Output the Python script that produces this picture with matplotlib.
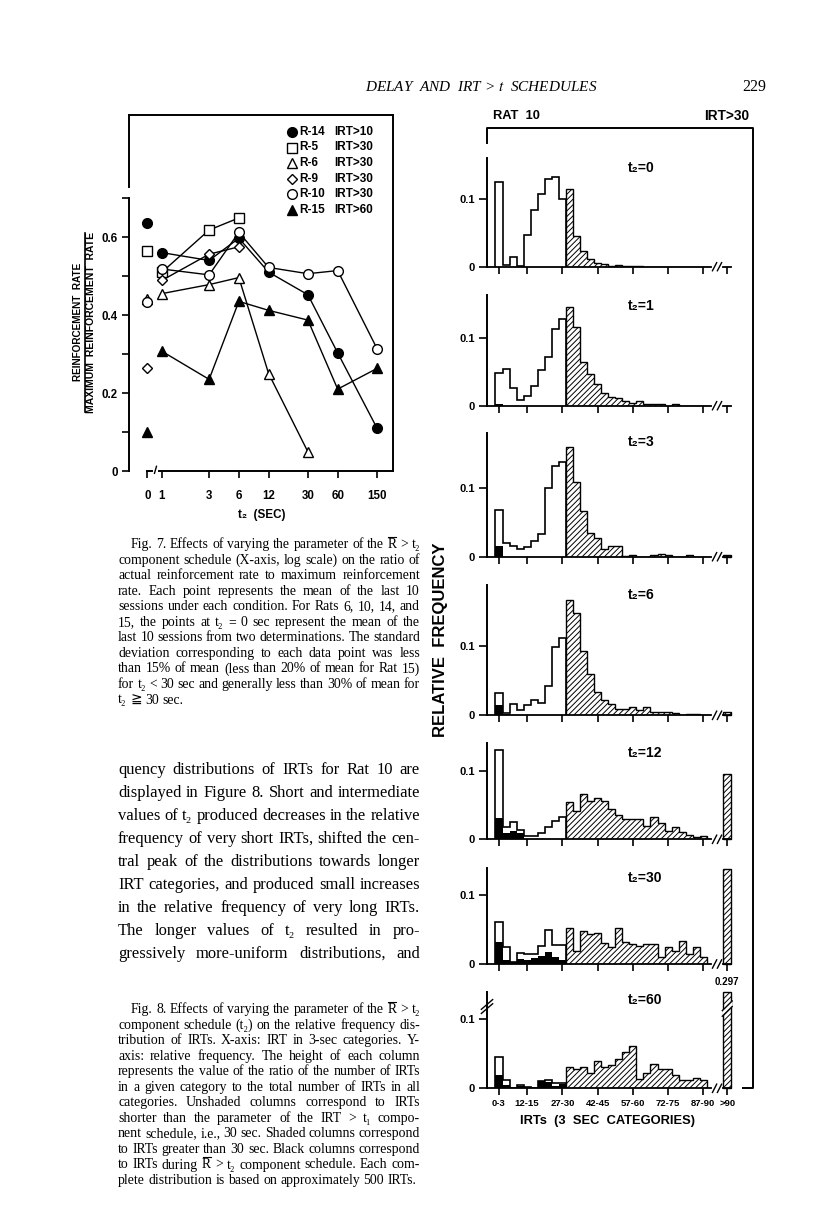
import numpy as np
import matplotlib
matplotlib.use('Agg')
import matplotlib.pyplot as plt
from matplotlib.lines import Line2D
from matplotlib.patches import Polygon

nan = np.nan
# ---------------- Fig. 7 data ----------------
t2_sec = [0, 1, 3, 6, 12, 30, 60, 150]
r14 = [0.635, 0.560, 0.540, 0.597, 0.510, 0.452, 0.303, 0.110]
r5 = [0.563, 0.510, 0.618, 0.649, nan, nan, nan, nan]
r6 = [0.442, 0.455, 0.478, 0.496, 0.250, 0.049, nan, nan]
r9 = [0.264, 0.489, 0.556, 0.575, nan, nan, nan, nan]
r10 = [0.434, 0.518, 0.503, 0.612, 0.522, 0.506, 0.514, 0.314]
r15 = [0.099, 0.307, 0.235, 0.435, 0.412, 0.387, 0.210, 0.263]
rat_names = ['R-14', 'R-5', 'R-6', 'R-9', 'R-10', 'R-15']
rat_irt = ['IRT>10', 'IRT>30', 'IRT>30', 'IRT>30', 'IRT>30', 'IRT>60']
x_ticklabels7 = ['0', '1', '3', '6', '12', '30', '60', '150']

# ---------------- Fig. 8 data (Rat 10, IRT>30) ----------------
panel_t2 = ['0', '1', '3', '6', '12', '30', '60']
hist_t0 = [0.126, 0.002, 0.015, 0.001, 0.047, 0.084, 0.108, 0.130, 0.134, 0.100,
           0.116, 0.045, 0.023, 0.012, 0.006, 0.0035, 0.0015, 0.002, 0.0015, 0.0015,
           0.0005, 0, 0, 0, 0, 0, 0, 0, 0, 0]
hist_t1 = [0.0485, 0.054, 0.0255, 0.008, 0.015, 0.029, 0.052, 0.071, 0.113, 0.127,
           0.145, 0.116, 0.065, 0.047, 0.032, 0.018, 0.013, 0.012, 0.007, 0.004,
           0.007, 0.003, 0.0025, 0.0025, 0, 0.003, 0, 0, 0, 0]
hist_t3 = [0.068, 0.020, 0.016, 0.011, 0.014, 0.023, 0.033, 0.101, 0.133, 0.138,
           0.161, 0.109, 0.067, 0.034, 0.028, 0.012, 0.015, 0.015, 0.001, 0.003,
           0, 0, 0.0025, 0.004, 0.003, 0, 0, 0.003, 0, 0]
hist_t6 = [0.032, 0.004, 0.016, 0.007, 0.015, 0.022, 0.018, 0.043, 0.099, 0.112,
           0.166, 0.148, 0.093, 0.059, 0.033, 0.022, 0.016, 0.0087, 0.0087, 0.0115,
           0.0077, 0.0115, 0.005, 0.005, 0.005, 0.003, 0, 0.002, 0.002, 0]
hist_t12 = [0.130, 0.018, 0.025, 0.0135, 0.005, 0.005, 0.009, 0.018, 0.026, 0.033,
            0.054, 0.041, 0.066, 0.056, 0.060, 0.056, 0.044, 0.035, 0.030, 0.030,
            0.030, 0.019, 0.033, 0.024, 0.0126, 0.018, 0.011, 0.006, 0.004, 0.005]
hist_t30 = [0.061, 0.024, 0.003, 0.016, 0.0145, 0.0145, 0.026, 0.049, 0.0275, 0.0275,
            0.052, 0.019, 0.048, 0.044, 0.045, 0.030, 0.024, 0.052, 0.032, 0.0285,
            0.026, 0.0285, 0.0285, 0.0106, 0.024, 0.019, 0.033, 0.0145, 0.024, 0.0106]
hist_t60 = [0.045, 0.012, 0, 0.005, 0.0025, 0, 0.0105, 0.012, 0.0072, 0.008,
            0.031, 0.028, 0.031, 0.0216, 0.040, 0.031, 0.034, 0.042, 0.053, 0.0615,
            0.013, 0.0216, 0.035, 0.028, 0.028, 0.019, 0.012, 0.012, 0.0144, 0.012]
black_t0 = [0, 0, 0, 0, 0, 0, 0, 0, 0, 0]
black_t1 = [0.003, 0, 0, 0, 0, 0, 0, 0, 0, 0]
black_t3 = [0.015, 0, 0, 0, 0, 0, 0, 0, 0, 0]
black_t6 = [0.015, 0.002, 0, 0, 0, 0, 0, 0, 0, 0]
black_t12 = [0.031, 0.009, 0.012, 0.009, 0, 0, 0, 0, 0, 0]
black_t30 = [0.032, 0.006, 0.0025, 0.007, 0.006, 0.008, 0.011, 0.018, 0.0097, 0.006]
black_t60 = [0.019, 0.005, 0, 0.003, 0.001, 0, 0.0105, 0.0096, 0.004, 0.006]
gt90 = [0, 0, 0.003, 0.005, 0.095, 0.137, 0.297]
irt_labels = ['0-3', '12-15', '27-30', '42-45', '57-60', '72-75', '87-90', '>90']
irt_label_pos = [0, 4, 9, 14, 19, 24, 29, 32.4]

hists = [hist_t0, hist_t1, hist_t3, hist_t6, hist_t12, hist_t30, hist_t60]
blacks = [black_t0, black_t1, black_t3, black_t6, black_t12, black_t30, black_t60]

# ---------------- figure setup ----------------
W, H = 816, 1207
plt.rcParams['mathtext.fontset'] = 'stix'
plt.rcParams['hatch.linewidth'] = 0.7
plt.rcParams['axes.linewidth'] = 1.2
fig = plt.figure(figsize=(W / 100, H / 100), dpi=100)
fig.patch.set_facecolor('white')
R = fig.canvas.get_renderer()

SANS = ['Liberation Sans', 'DejaVu Sans']
SERIF = ['Liberation Serif', 'DejaVu Serif', 'DejaVu Sans', 'Noto Sans CJK JP']
RBAR = 'RBAR'   # token for R with an overbar


def fx(x):
    return x / W


def fy(y):
    return 1 - y / H


def axes_px(x0, y0, x1, y1):
    return fig.add_axes([x0 / W, 1 - y1 / H, (x1 - x0) / W, (y1 - y0) / H])


def fline(xs, ys, lw=1.2):
    fig.add_artist(Line2D([fx(v) for v in xs], [fy(v) for v in ys],
                          transform=fig.transFigure, color='k', lw=lw))


def fit_text(x, y, s, width=None, height=None, size=9, **kw):
    t = fig.text(fx(x), fy(y), s, fontsize=size, **kw)
    bb = t.get_window_extent(R)
    if width is not None:
        t.set_fontsize(size * width / bb.width)
    elif height is not None:
        t.set_fontsize(size * height / bb.height)
    return t


def word_widths(words, size):
    ts = [fig.text(0, 0, ('R' if w == RBAR else w), fontsize=size, family=SERIF,
                   va='baseline', ha='left') for w in words]
    ws = [t.get_window_extent(R).width for t in ts]
    return ts, ws


def justify(lines, x0, x1, ybase, dy, size0, indent=0, last_full=False):
    n = len(lines)
    ratios = []
    for k, line in enumerate(lines):
        if k == n - 1 and not last_full:
            continue
        words = line.split(' ')
        ts, ws = word_widths(words, size0)
        for t in ts:
            t.remove()
        sp = size0 * 0.25 * 100 / 72
        natural = sum(ws) + sp * (len(words) - 1)
        avail = x1 - (x0 + (indent if k == 0 else 0))
        ratios.append(avail / natural)
    size = size0 * min(ratios)
    cap_px = size * 100 / 72 * 0.66
    for k, line in enumerate(lines):
        words = line.split(' ')
        xs = x0 + (indent if k == 0 else 0)
        ts, ws = word_widths(words, size)
        y = ybase + k * dy
        if (k < n - 1 or last_full) and len(words) > 1:
            gap = (x1 - xs - sum(ws)) / (len(words) - 1)
        else:
            gap = size * 0.25 * 100 / 72
        x = xs
        for t, w, wd in zip(ts, ws, words):
            t.set_position((fx(x), fy(y)))
            if wd == RBAR:
                yb = y - cap_px - 2.2
                fline([x + 0.5, x + w - 0.5], [yb, yb], lw=0.8)
            x += w + gap


# ---------------- page header ----------------
fit_text(365, 91, 'DELAY  AND  IRT > $t$  SCHEDULES', width=233, size=11,
         family=SERIF, style='italic', va='baseline', ha='left')
fit_text(742, 91, '229', width=24, size=11, family=SERIF, va='baseline', ha='left')

# ---------------- Fig. 7 ----------------
ax = axes_px(129, 115, 393, 471)
ax.set_xscale('log')
ax.set_xlim(0.464, 217.8)
ax.set_ylim(0, 0.913)
ZERO_X = 0.71
xplot = [ZERO_X if v == 0 else v for v in t2_sec]

styles = [
    (r14, 'o', 'k', 7.0),
    (r5, 's', 'w', 6.5),
    (r6, '^', 'w', 7.0),
    (r9, 'D', 'w', 5.2),
    (r10, 'o', 'w', 7.0),
    (r15, '^', 'k', 7.0),
]
for vals, mk, fc, ms in styles:
    ax.plot(xplot[1:], vals[1:], color='k', lw=1.0, zorder=2)
    ax.plot(xplot, vals, ls='none', marker=mk, mfc=fc, mec='k', mew=1.0, ms=ms,
            zorder=3, clip_on=False)

for sp in ['top', 'right', 'left', 'bottom']:
    ax.spines[sp].set_linewidth(1.4)
ax.spines['left'].set_bounds(0, 0.70)
ax.spines['bottom'].set_bounds(0.93, 217.8)
ax.plot([0.464, 0.464], [0.728, 0.913], color='k', lw=1.4, clip_on=False)
# break symbol near zero
ax.plot([ZERO_X, 0.79], [0, 0], color='k', lw=1.4, clip_on=False)
ax.plot([0.84, 0.88], [-0.006, 0.012], color='k', lw=1.0, clip_on=False)

ax.set_yticks([0, 0.2, 0.4, 0.6])
ax.set_yticklabels(['0', '0.2', '0.4', '0.6'])
ax.set_yticks([0.1, 0.3, 0.5, 0.7], minor=True)
ax.xaxis.set_minor_locator(matplotlib.ticker.NullLocator())
ax.set_xticks(xplot)
ax.set_xticklabels(x_ticklabels7)
ax.tick_params(axis='y', which='both', direction='out', length=5, width=1.2, pad=3)
ax.tick_params(axis='x', which='both', direction='out', length=5, width=1.2, pad=9)
for lab in ax.get_xticklabels() + ax.get_yticklabels():
    lab.set_fontfamily(SANS)
    lab.set_fontweight('bold')
    lab.set_fontsize(8.3)

# legend (manual)
leg_y = [132, 147.5, 163, 178.5, 194, 210]
for (vals, mk, fc, ms), name, irt, yy in zip(styles, rat_names, rat_irt, leg_y):
    fig.add_artist(Line2D([fx(292)], [fy(yy)], transform=fig.transFigure, ls='none',
                          marker=mk, mfc=fc, mec='k', mew=1.0, ms=ms))
    fig.text(fx(299), fy(yy), name, family=SANS, weight='bold', fontsize=8.5,
             va='center', ha='left')
    fig.text(fx(334), fy(yy), irt, family=SANS, weight='bold', fontsize=8.5,
             va='center', ha='left')

# y label as a fraction (left of the tick labels)
fit_text(78, 322, 'REINFORCEMENT  RATE', height=120, size=7, family=SANS,
         weight='bold', rotation=90, ha='center', va='center')
fline([85, 85], [233, 412], lw=1.2)
fit_text(91.5, 322, 'MAXIMUM  REINFORCEMENT  RATE', height=180, size=7, family=SANS,
         weight='bold', rotation=90, ha='center', va='center')
fit_text(262, 515, 't₂  (SEC)', width=47, size=7.5, family=SANS, weight='bold',
         ha='center', va='center')

# ---------------- Fig. 7 caption ----------------
cap7 = [
    'Fig. 7. Effects of varying the parameter of the RBAR > t₂',
    'component schedule (X-axis, log scale) on the ratio of',
    'actual reinforcement rate to maximum reinforcement',
    'rate. Each point represents the mean of the last 10',
    'sessions under each condition. For Rats 6, 10, 14, and',
    '15, the points at t₂ = 0 sec represent the mean of the',
    'last 10 sessions from two determinations. The standard',
    'deviation corresponding to each data point was less',
    'than 15% of mean (less than 20% of mean for Rat 15)',
    'for t₂ < 30 sec and generally less than 30% of mean for',
    't₂ ≧ 30 sec.',
]
justify(cap7, 118, 420, 548, 15.55, 9.0, indent=13)

body = [
    'quency distributions of IRTs for Rat 10 are',
    'displayed in Figure 8. Short and intermediate',
    'values of t₂ produced decreases in the relative',
    'frequency of very short IRTs, shifted the cen-',
    'tral peak of the distributions towards longer',
    'IRT categories, and produced small increases',
    'in the relative frequency of very long IRTs.',
    'The longer values of t₂ resulted in pro-',
    'gressively more-uniform distributions, and',
]
justify(body, 118, 420, 774, 23, 11.0, last_full=True)

cap8 = [
    'Fig. 8. Effects of varying the parameter of the RBAR > t₂',
    'component schedule (t₂) on the relative frequency dis-',
    'tribution of IRTs. X-axis: IRT in 3-sec categories. Y-',
    'axis: relative frequency. The height of each column',
    'represents the value of the ratio of the number of IRTs',
    'in a given category to the total number of IRTs in all',
    'categories. Unshaded columns correspond to IRTs',
    'shorter than the parameter of the IRT > t₁ compo-',
    'nent schedule, i.e., 30 sec. Shaded columns correspond',
    'to IRTs greater than 30 sec. Black columns correspond',
    'to IRTs during RBAR > t₂ component schedule. Each com-',
    'plete distribution is based on approximately 500 IRTs.',
]
justify(cap8, 118, 420, 1013, 15.55, 9.0, indent=13)

# ---------------- Fig. 8 ----------------
fit_text(493, 116, 'RAT  10', width=47, size=9, family=SANS, weight='bold',
         ha='left', va='center')
fit_text(749, 116, 'IRT>30', width=45, size=9, family=SANS, weight='bold',
         ha='right', va='center')
fline([487, 487, 753, 753, 743], [143, 128, 128, 1088, 1088], lw=1.4)

panel_base = [266.7, 405.7, 556.7, 715.3, 839.3, 964, 1088.3]
panel_top = [158, 295, 433, 585, 743, 868, 992]
panel_ppt = [67.3, 68.0, 68.3, 69.3, 68.7, 69.0, 69.3]
label_y = [168, 306, 442, 595, 753, 878, 1000]
BREAK_CAP = 0.139

for p in range(7):
    base, top, ppt = panel_base[p], panel_top[p], panel_ppt[p]
    ytop = (base - top) / ppt * 0.1
    a = axes_px(487, top, 735, base)
    a.set_xlim(-1.7, 33.5)
    a.set_ylim(0, ytop)
    a.patch.set_alpha(0)
    for sp in ['top', 'right', 'bottom']:
        a.spines[sp].set_visible(False)
    a.spines['left'].set_linewidth(1.4)
    vals = hists[p]
    edges_u = np.arange(11) - 0.5
    edges_s = np.arange(10, 31) - 0.5
    a.stairs(vals[10:], edges_s, baseline=0, fill=True, facecolor='white',
             edgecolor='k', hatch='//////', lw=1.0, zorder=2)
    a.stairs(blacks[p], edges_u, baseline=0, fill=True, color='k', zorder=3)
    a.stairs(vals[:10], edges_u, baseline=0, fill=False, color='k', lw=1.2, zorder=4)
    g = gt90[p]
    if g > 0:
        shown = min(g, BREAK_CAP)
        a.bar(32.4, shown, width=1.15, facecolor='white', edgecolor='k',
              hatch='//////', lw=1.0, zorder=2, clip_on=False)
    # axis line with break
    a.plot([-1.7, 30.1], [0, 0], color='k', lw=1.3, clip_on=False, zorder=5)
    a.plot([31.8, 33.0], [0, 0], color='k', lw=1.3, clip_on=False, zorder=5)
    for bx in (30.6, 31.3):
        a.plot([bx - 0.3, bx + 0.3], [-0.006, 0.006], color='k', lw=1.0,
               clip_on=False, zorder=5)
    a.set_yticks([0, 0.1])
    a.set_yticklabels(['0', '0.1'])
    a.set_xticks(irt_label_pos)
    a.tick_params(axis='y', direction='out', length=6, width=1.2, pad=3)
    a.tick_params(axis='x', direction='out', length=5, width=1.2, pad=3)
    for lab in a.get_yticklabels():
        lab.set_fontfamily(SANS)
        lab.set_fontweight('bold')
        lab.set_fontsize(8)
    if p == 6:
        a.set_xticklabels(irt_labels)
        for lab in a.get_xticklabels():
            lab.set_fontfamily(SANS)
            lab.set_fontweight('bold')
            lab.set_fontsize(6.8)
        # value break on the >90 bar and on the y axis
        a.add_patch(Polygon([[31.7, 0.104], [33.1, 0.118], [33.1, 0.126], [31.7, 0.112]],
                            closed=True, facecolor='white', edgecolor='none',
                            zorder=6, clip_on=False))
        a.plot([31.7, 33.1], [0.104, 0.118], color='k', lw=1.0, clip_on=False, zorder=7)
        a.plot([31.7, 33.1], [0.112, 0.126], color='k', lw=1.0, clip_on=False, zorder=7)
        a.text(32.4, 0.146, '%.3f' % gt90[p], family=SANS, weight='bold',
               fontsize=7, ha='center', va='bottom')
        a.plot([-2.5, -0.9], [0.108, 0.122], color='k', lw=1.0, clip_on=False, zorder=7)
        a.plot([-2.5, -0.9], [0.114, 0.128], color='k', lw=1.0, clip_on=False, zorder=7)
    else:
        a.set_xticklabels([])
    fig.text(fx(628), fy(label_y[p]), 't₂=' + panel_t2[p], family=SANS,
             weight='bold', fontsize=10, ha='left', va='center')

fit_text(608, 1121, 'IRTs  (3  SEC  CATEGORIES)', width=175, size=9, family=SANS,
         weight='bold', ha='center', va='center')
fit_text(441, 640, 'RELATIVE  FREQUENCY', height=195, size=9, family=SANS,
         weight='bold', rotation=90, ha='center', va='center')

fig.savefig('out.png', dpi=100, facecolor='white')
